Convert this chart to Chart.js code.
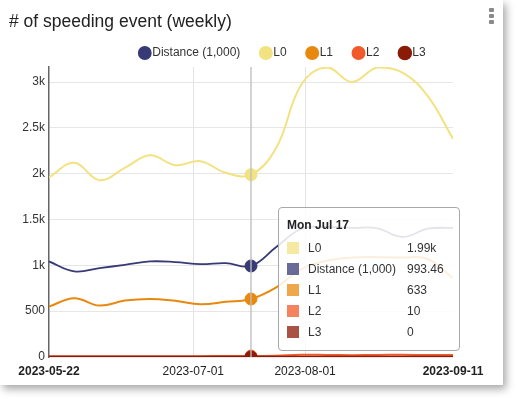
<!DOCTYPE html>
<html>
<head>
<meta charset="utf-8">
<script src="https://cdn.jsdelivr.net/npm/chart.js@4.4.0/dist/chart.umd.min.js"></script>
<style>
  html, body { margin: 0; padding: 0; background: #fff; font-family: "Liberation Sans", Arial, sans-serif; }
  .card { position: absolute; left: 0; top: 0; width: 503px; height: 385px; background: #fff;
          box-shadow: 3px 4px 8px rgba(0,0,0,0.35); }
  .card canvas { position: absolute; left: 0; top: 0; }
  .title { position: absolute; left: 9px; top: 11px; font-size: 17.5px; line-height: 20px; color: #222; white-space: nowrap; }
  .menu { position: absolute; left: 489px; top: 8px; width: 5px; }
  .menu span { display: block; width: 5px; height: 4px; margin-bottom: 2px; background: #8a8a8a; border-radius: 1px; }
  #tip { position: absolute; pointer-events: none; background: rgba(255,255,255,0.86);
         border: 1px solid #a8a8a8; border-radius: 4px; box-sizing: border-box; font-size: 12px; color: #333; }
  #tip .t { font-weight: bold; color: #222; margin: 10px 0 6px 8px; }
  #tip .row { position: relative; height: 21px; }
  #tip .sw { position: absolute; left: 8px; top: 4px; width: 12px; height: 12px; opacity: 0.75; }
  #tip .lb { position: absolute; left: 29px; top: 3px; }
  #tip .vl { position: absolute; left: 128px; top: 3px; }
</style>
</head>
<body>
<div class="card">
  <canvas id="speedChart" width="503" height="385"></canvas>
  <div class="title"># of speeding event (weekly)</div>
  <div class="menu"><span></span><span></span><span></span></div>
  <div id="tip"></div>
</div>
<script>
// weekly data
const weeks = ['2023-05-22', '2023-05-29', '2023-06-05', '2023-06-12', '2023-06-19', '2023-06-26',
  '2023-07-03', '2023-07-10', '2023-07-17', '2023-07-24', '2023-07-31', '2023-08-07',
  '2023-08-14', '2023-08-21', '2023-08-28', '2023-09-04', '2023-09-11'];
const distance = [1043, 935, 970, 1006, 1043, 1036, 1014, 1025, 993.46, 1200, 1400, 1420, 1410, 1405, 1310, 1400, 1410];
const l0 = [1960, 2119, 1929, 2064, 2202, 2093, 2137, 2010, 1990, 2283, 2976, 3160, 3001, 3160, 3104, 2848, 2381];
const l1 = [550, 642, 561, 616, 634, 613, 576, 602, 633, 760, 960, 1050, 1085, 1090, 1085, 1070, 860];
const l2 = [8, 7, 9, 8, 9, 8, 9, 10, 10, 14, 24, 22, 20, 22, 24, 22, 22];
const l3 = [0, 0, 0, 0, 0, 0, 0, 0, 0, 0, 0, 0, 0, 0, 0, 0, 0];

const xTickDates = ['2023-05-22', '2023-07-01', '2023-08-01', '2023-09-11'];
const yTicks = [0, 500, 1000, 1500, 2000, 2500, 3000];
const yTickLabels = ['0', '500', '1k', '1.5k', '2k', '2.5k', '3k'];
const hoverIndex = 8;

const DAY = 86400000;
const start = Date.parse(weeks[0]);
const dayOf = s => Math.round((Date.parse(s) - start) / DAY);
const xy = arr => arr.map((v, i) => ({ x: dayOf(weeks[i]), y: v }));

function series(label, data, color, order) {
  return {
    label, data: xy(data), order, borderColor: color, backgroundColor: color,
    borderWidth: 2, tension: 0.4, pointRadius: 0, pointHoverRadius: 6,
    pointHoverBorderWidth: 1, pointHoverBorderColor: color, pointHoverBackgroundColor: color
  };
}

const datasets = [
  series('Distance (1,000)', distance, '#373a75', 1),
  series('L0', l0, '#f3e281', 2),
  series('L1', l1, '#e8890f', 3),
  series('L2', l2, '#f25a2b', 4),
  series('L3', l3, '#8b1a06', 0)
];
datasets[0].borderWidth = 1.8;
datasets[4].borderWidth = 2.5;

const fmt = v => v >= 1000 ? (v / 1000).toPrecision(3) + 'k' : String(v);

function externalTip(ctx) {
  const tip = document.getElementById('tip');
  const t = ctx.tooltip;
  if (t.opacity === 0) { tip.style.display = 'none'; return; }
  const items = t.dataPoints.slice().sort((a, b) => b.raw.y - a.raw.y);
  let html = '<div class="t">Mon Jul 17</div>';
  items.forEach(p => {
    const c = p.dataset.borderColor;
    html += '<div class="row"><span class="sw" style="background:' + c + '"></span>' +
      '<span class="lb">' + p.dataset.label + '</span><span class="vl">' + fmt(p.raw.y) + '</span></div>';
  });
  tip.innerHTML = html;
  tip.style.display = 'block';
  tip.style.width = '182px';
  tip.style.height = '144px';
  tip.style.left = (t.caretX + 27) + 'px';
  tip.style.top = (t.caretY - 84) + 'px';
}

const hoverLine = {
  id: 'hoverLine',
  afterDatasetsDraw(chart) {
    const act = chart.getActiveElements();
    if (!act.length) return;
    const x = act[0].element.x;
    const { top, bottom } = chart.chartArea;
    const c = chart.ctx;
    c.save();
    c.strokeStyle = 'rgba(190,190,190,0.9)';
    c.lineWidth = 1.5;
    c.beginPath();
    c.moveTo(x, top);
    c.lineTo(x, bottom);
    c.stroke();
    c.restore();
  }
};

// nudge the legend to where the original dashboard puts it
const legendShift = {
  id: 'legendShift',
  afterLayout(chart) {
    const lg = chart.legend;
    lg.left += 58; lg.right += 58;
    lg.top += 2; lg.bottom += 2;
  }
};

const chart = new Chart(document.getElementById('speedChart'), {
  type: 'line',
  data: { datasets },
  plugins: [hoverLine, legendShift],
  options: {
    responsive: false,
    animation: false,
    events: [],
    layout: { padding: { left: 0, right: 50, top: 21, bottom: 0 } },
    interaction: { mode: 'index', intersect: false },
    plugins: {
      legend: {
        position: 'top',
        labels: {
          usePointStyle: true, pointStyle: 'circle', boxWidth: 3, boxHeight: 8.5, padding: 24,
          color: '#333', font: { family: '"Liberation Sans", Arial, sans-serif', size: 12 },
          sort: (a, b) => a.datasetIndex - b.datasetIndex
        }
      },
      tooltip: { enabled: false, external: externalTip, position: 'average' }
    },
    scales: {
      x: {
        type: 'linear', min: 0, max: dayOf(weeks[weeks.length - 1]),
        afterBuildTicks: s => { s.ticks = xTickDates.map(d => ({ value: dayOf(d) })); },
        afterFit: s => { s.height = 28; },
        ticks: {
          autoSkip: false, maxRotation: 0, padding: 7, color: '#222',
          callback: (v, i) => xTickDates[i],
          font: ctx => ({ family: '"Liberation Sans", Arial, sans-serif', size: 12,
            weight: (ctx.index === 0 || ctx.index === xTickDates.length - 1) ? 'bold' : 'normal' })
        },
        grid: {
          drawTicks: false, lineWidth: 1,
          color: ctx => (ctx.index === 0 || ctx.index === xTickDates.length - 1) ? 'rgba(0,0,0,0)' : '#e3e3e3'
        },
        border: { display: false }
      },
      y: {
        min: 0, max: 3165,
        afterBuildTicks: s => { s.ticks = yTicks.map(v => ({ value: v })); },
        afterFit: s => { s.width = 49; },
        ticks: {
          padding: 4, color: '#333',
          callback: (v, i) => yTickLabels[i],
          font: { family: '"Liberation Sans", Arial, sans-serif', size: 12 }
        },
        grid: { drawTicks: false, color: '#e6e6e6' },
        border: { display: true, color: '#666', width: 1.5 }
      }
    }
  }
});

const active = datasets.map((d, i) => ({ datasetIndex: i, index: hoverIndex }));
chart.setActiveElements(active);
chart.tooltip.setActiveElements(active, { x: 0, y: 0 });
chart.update();
</script>
</body>
</html>
